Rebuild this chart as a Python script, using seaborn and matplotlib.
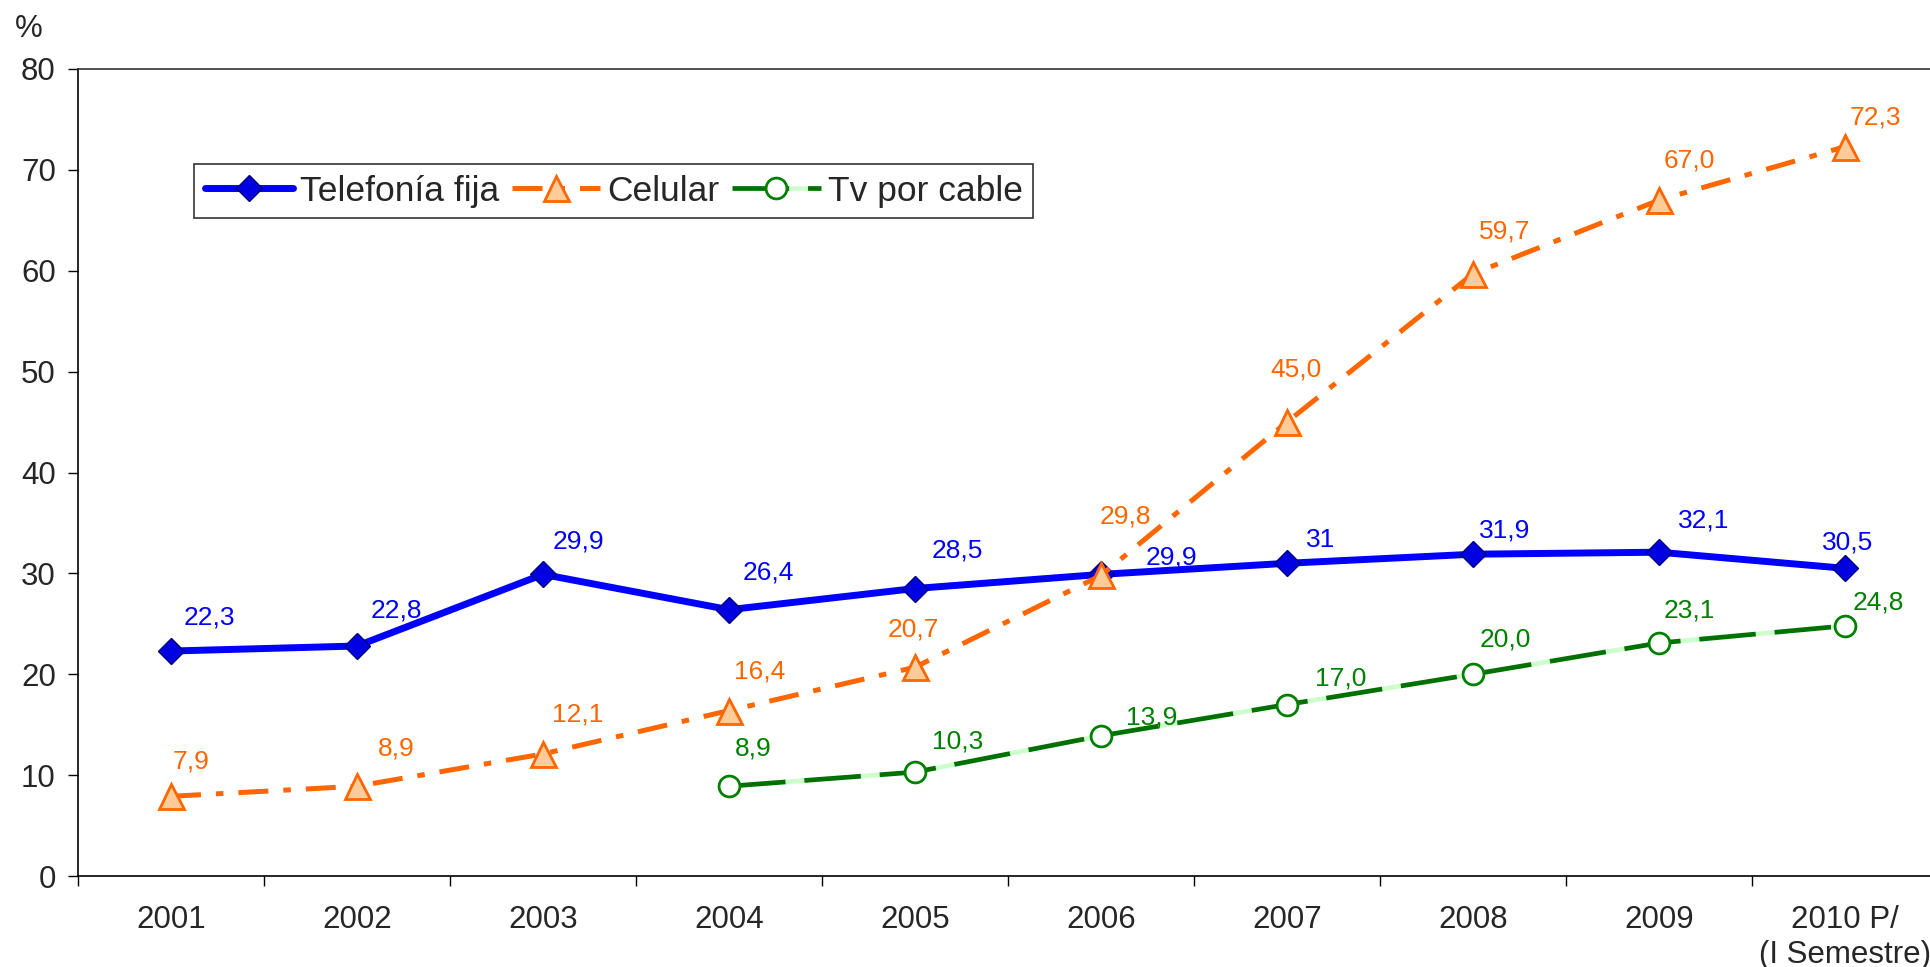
import matplotlib
matplotlib.use("Agg")
import matplotlib.pyplot as plt
import seaborn as sns
import numpy as np
import pandas as pd

# ---- data ----
years = ["2001", "2002", "2003", "2004", "2005", "2006", "2007", "2008", "2009", "2010 P/\n(I Semestre)"]
telefonia = [22.3, 22.8, 29.9, 26.4, 28.5, 29.9, 31.0, 31.9, 32.1, 30.5]
telefonia_lbl = ["22,3", "22,8", "29,9", "26,4", "28,5", "29,9", "31", "31,9", "32,1", "30,5"]
celular = [7.9, 8.9, 12.1, 16.4, 20.7, 29.8, 45.0, 59.7, 67.0, 72.3]
celular_lbl = ["7,9", "8,9", "12,1", "16,4", "20,7", "29,8", "45,0", "59,7", "67,0", "72,3"]
tv_years_idx = [3, 4, 5, 6, 7, 8, 9]
tv = [8.9, 10.3, 13.9, 17.0, 20.0, 23.1, 24.8]
tv_lbl = ["8,9", "10,3", "13,9", "17,0", "20,0", "23,1", "24,8"]
yticks = [0, 10, 20, 30, 40, 50, 60, 70, 80]

# ---- label offsets (layout, points) ----
tel_off = [(31, 27), (32, 29), (29, 27), (32, 30), (34, 31), (57, 14), (27, 19), (26, 19), (36, 26), (2, 21)]
cel_off = [(16, 28), (32, 31), (28, 32), (25, 32), (-1, 31), (20, 48), (7, 43), (26, 34), (25, 32), (25, 24)]
tv_off = [(20, 31), (35, 25), (41, 15), (44, 21), (26, 28), (25, 26), (27, 19)]
PT = 0.8866  # shrunk px -> points

sns.set_theme(style="white")
plt.rcParams['font.family'] = ['Liberation Sans', 'DejaVu Sans']

W, H = 1931, 967
fig = plt.figure(figsize=(W / 100, H / 100), dpi=100)
ax = fig.add_axes([78 / W, (H - 876) / H, 1860 / W, 807 / H])

x = np.arange(len(years))

BLUE = "#0000FF"
ORANGE = "#FF6600"
GREEN = "#008000"

sns.lineplot(x=x, y=telefonia, ax=ax, color=BLUE, lw=5, marker="D", ms=13,
             mfc="#0000E0", mec="#000080", mew=1, label="Telefonía fija", zorder=3)
sns.lineplot(x=x, y=celular, ax=ax, color=ORANGE, lw=3.6, linestyle=(0, (6, 3, 1.5, 3)),
             marker="^", ms=18, mfc="#FFCC99", mec=ORANGE, mew=2, label="Celular", zorder=4)
sns.lineplot(x=np.array(tv_years_idx), y=tv, ax=ax, color="#007000", lw=3.4, linestyle=(0, (12, 4)),
             gapcolor="#CCFFCC", marker="o", ms=15, mfc="white", mec=GREEN, mew=2,
             label="Tv por cable", zorder=3)

def annotate(xs, ys, labels, offs, color):
    for xi, yi, t, (dx, dy) in zip(xs, ys, labels, offs):
        ax.annotate(t, (xi, yi), xytext=(dx * PT, dy * PT), textcoords="offset points",
                    ha="center", va="center", fontsize=19, color=color, zorder=6)

annotate(x, telefonia, telefonia_lbl, tel_off, BLUE)
annotate(x, celular, celular_lbl, cel_off, ORANGE)
annotate(tv_years_idx, tv, tv_lbl, tv_off, GREEN)

ax.set_xlim(-0.5, len(years) - 0.5)
ax.set_ylim(0, 80)
ax.set_yticks(yticks)
ax.set_yticklabels([str(v) for v in yticks])
ax.set_xticks(np.arange(-0.5, len(years), 1.0))
ax.set_xticklabels([])
ax.set_xticks(x, minor=True)
ax.set_xticklabels(years, minor=True)
ax.tick_params(axis="x", which="major", direction="out", length=7, width=1, color="black", bottom=True)
ax.tick_params(axis="x", which="minor", length=0, pad=21, labelsize=22.5, bottom=True)
ax.tick_params(axis="y", direction="out", length=7, width=1, color="black", pad=9, labelsize=22.5, left=True)
ax.set_xlabel("")
ax.set_ylabel("")
for s in ["left", "bottom", "top"]:
    ax.spines[s].set_visible(True)
    ax.spines[s].set_color("black")
    ax.spines[s].set_linewidth(1.2)
ax.spines["top"].set_color("#333333")
ax.spines["right"].set_visible(False)
ax.grid(False)

fig.text(15 / W, 1 - 29 / H, "%", fontsize=22.5, ha="left", va="center")

leg = ax.legend(loc="upper left", bbox_to_anchor=(194 / W, 1 - 164 / H), bbox_transform=fig.transFigure,
                ncol=3, fontsize=25.5, frameon=True, fancybox=False, framealpha=1,
                edgecolor="#333333", borderaxespad=0, handlelength=2.5, handletextpad=0.2,
                columnspacing=0.35, borderpad=0.3)
leg.get_frame().set_linewidth(1.2)

fig.savefig("out.png", dpi=100)
